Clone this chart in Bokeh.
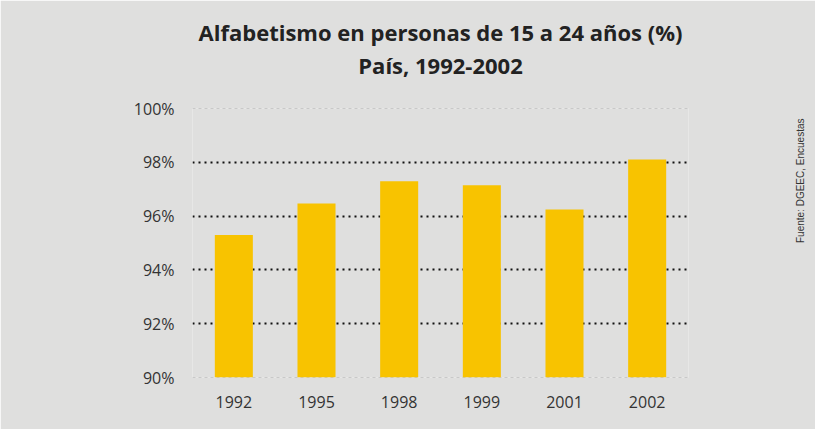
import math
from bokeh.plotting import figure
from bokeh.models import Title, Span, PrintfTickFormatter, FixedTicker, LinearAxis
from bokeh.embed import file_html
from bokeh.resources import INLINE

years = ["1992", "1995", "1998", "1999", "2001", "2002"]
literacy = [95.3, 96.47, 97.3, 97.15, 96.25, 98.1]
y_ticks = [90, 92, 94, 96, 98, 100]
title_lines = ["Alfabetismo en personas de 15 a 24 años (%)", "País, 1992-2002"]
source = "Fuente: DGEEC, Encuestas"

BG = "#dfdfde"
p = figure(x_range=years, y_range=(90, 100), width=815, height=429,
           output_backend="svg", toolbar_location=None,
           min_border_left=192, min_border_right=127, min_border_top=108, min_border_bottom=52,
           background_fill_color=BG, border_fill_color=BG, outline_line_color=None)
p.x_range.range_padding = 0

p.vbar(x=years, top=literacy, bottom=90, width=0.46, color="#f8c300", line_color=None)

p.xgrid.grid_line_color = None
p.ygrid.ticker = FixedTicker(ticks=[92, 94, 96, 98])
p.ygrid.grid_line_color = "#111111"
p.ygrid.grid_line_width = 2
p.ygrid.grid_line_dash = "2 4"

for v in (90, 100):
    p.add_layout(Span(location=v, dimension="width", line_color="#aaaaaa",
                      line_width=1, line_dash="3 3", level="underlay"))

p.yaxis.ticker = FixedTicker(ticks=y_ticks)
p.yaxis.formatter = PrintfTickFormatter(format="%d%%")
for ax in (p.xaxis[0], p.yaxis[0]):
    ax.axis_line_color = None
    ax.major_tick_line_color = None
    ax.minor_tick_line_color = None
    ax.major_label_text_font = "Open Sans"
    ax.major_label_text_font_size = "16px"
    ax.major_label_text_color = "#333333"
p.yaxis.major_label_standoff = 12
p.xaxis.major_label_standoff = 12

# two title lines: p.title is the outer line, the added Title sits nearest the frame
title_style = dict(text_font="Open Sans", text_font_style="bold",
                   text_font_size="22px", text_color="#222222", align="center")
p.title.text = title_lines[0]
for k, v in title_style.items():
    setattr(p.title, k, v)
p.title.standoff = -56
p.add_layout(Title(text=title_lines[1], standoff=58, **title_style), "above")

# source note as the label of a bare axis on the right
src_axis = LinearAxis(ticker=FixedTicker(ticks=[]), axis_label=source,
                      axis_line_color=None, major_tick_line_color=None,
                      minor_tick_line_color=None, major_label_text_font_size="0px",
                      axis_label_text_font="Liberation Sans",
                      axis_label_text_font_size="10px",
                      axis_label_text_font_style="normal",
                      axis_label_text_color="#333333",
                      axis_label_standoff=112)
try:
    src_axis.axis_label_orientation = math.pi / 2
except Exception:
    pass
try:
    src_axis.axis_label_text_align = "right"
except Exception:
    pass
p.add_layout(src_axis, "right")

open("out.html", "w").write(file_html(p, INLINE))
